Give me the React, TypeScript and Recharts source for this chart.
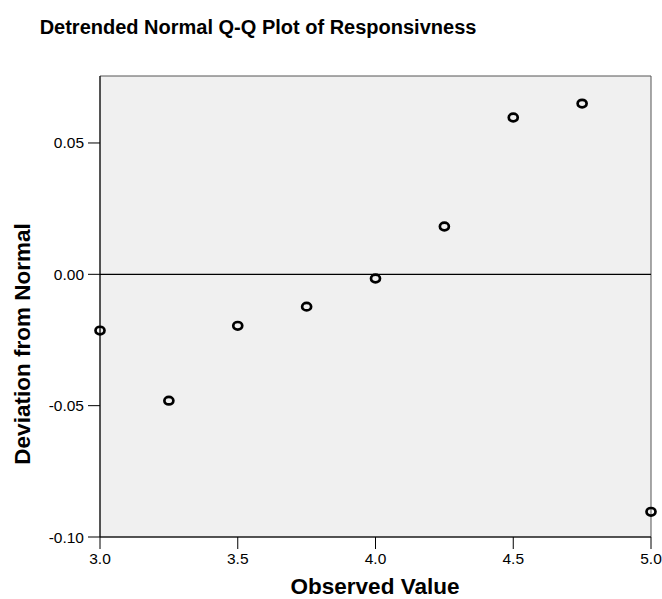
import { ScatterChart, Scatter, XAxis, YAxis, ReferenceLine, ReferenceArea } from "recharts";

// observed values and their deviation from normal
const observed = [3.0, 3.25, 3.5, 3.75, 4.0, 4.25, 4.5, 4.75, 5.0];
const deviation = [-0.0214, -0.0481, -0.0196, -0.0123, -0.0016, 0.0182, 0.0597, 0.065, -0.0904];

const xTicks = [3.0, 3.5, 4.0, 4.5, 5.0];
const yTicks = [-0.1, -0.05, 0.0, 0.05];

const points = observed.map((x, i) => ({ x, y: deviation[i] }));

const FONT = "Arial, 'Liberation Sans', sans-serif";

const Ring = (props: any) => {
    const { cx, cy } = props;
    return <ellipse cx={cx} cy={cy} rx={4.5} ry={3.8} fill="none" stroke="#000" strokeWidth={2.7} />;
};

export default function App() {
    return (
        <div style={{ position: "absolute", left: 0, top: 0, width: 662, height: 599, background: "#fff", fontFamily: FONT }}>
            <div
                style={{
                    position: "absolute",
                    left: 0,
                    width: 516,
                    top: 16,
                    textAlign: "center",
                    fontWeight: "bold",
                    fontSize: 20,
                    color: "#000",
                }}
            >
                Detrended Normal Q-Q Plot of Responsivness
            </div>
            <ScatterChart width={662} height={599} margin={{ top: 76, right: 11, left: 0, bottom: 0 }}>
                <ReferenceArea x1={3} x2={5} y1={-0.1} y2={0.0755} fill="#f0f0f0" fillOpacity={1} stroke="#555" strokeWidth={1} />
                <XAxis
                    type="number"
                    dataKey="x"
                    domain={[3, 5]}
                    ticks={xTicks}
                    tickFormatter={(v: number) => v.toFixed(1)}
                    height={62}
                    tickSize={12}
                    tickMargin={4}
                    stroke="#000"
                    tick={{ fill: "#000", fontSize: 15.5, fontFamily: FONT }}
                    label={{
                        content: () => (
                            <text
                                x={375}
                                y={586}
                                textAnchor="middle"
                                dominantBaseline="central"
                                fontSize={22.5}
                                fontWeight="bold"
                                fontFamily={FONT}
                                fill="#000"
                            >
                                Observed Value
                            </text>
                        ),
                    }}
                />
                <YAxis
                    type="number"
                    dataKey="y"
                    domain={[-0.1, 0.0755]}
                    ticks={yTicks}
                    tickFormatter={(v: number) => (Math.abs(v) < 1e-9 ? "0.00" : v.toFixed(2))}
                    width={100}
                    tickSize={12}
                    tickMargin={4}
                    stroke="#000"
                    allowDataOverflow
                    tick={{ fill: "#000", fontSize: 15.5, fontFamily: FONT }}
                    label={{
                        content: () => (
                            <text
                                x={22}
                                y={344}
                                transform="rotate(-90, 22, 344)"
                                textAnchor="middle"
                                dominantBaseline="central"
                                fontSize={22.5}
                                fontWeight="bold"
                                fontFamily={FONT}
                                fill="#000"
                            >
                                Deviation from Normal
                            </text>
                        ),
                    }}
                />
                <ReferenceLine y={0} stroke="#000" strokeWidth={1.2} />
                <Scatter data={points} shape={Ring} isAnimationActive={false} />
            </ScatterChart>
        </div>
    );
}
